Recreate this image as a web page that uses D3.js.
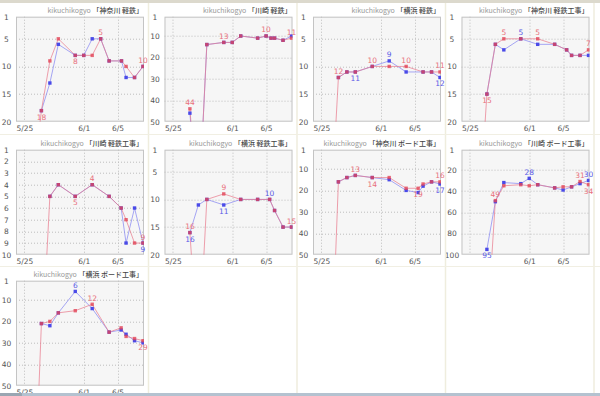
<!DOCTYPE html>
<html>
<head>
<meta charset="utf-8">
<script src="https://cdn.jsdelivr.net/npm/d3@7"></script>
<style>
  body { margin: 0; background: #fff; overflow: hidden; }
  svg { display: block; }
</style>
</head>
<body>
<div class="board"></div>
<script>

// ---- data ----
var titles = ["「神奈川 軽鉄」", "「川崎 軽鉄」", "「横浜 軽鉄」",
              "「神奈川 軽鉄工事」", "「川崎 軽鉄工事」", "「横浜 軽鉄工事」",
              "「神奈川 ボード工事」", "「川崎 ボード工事」", "「横浜 ボード工事」"];
var yMaxes = [20, 50, 20, 20, 10, 20, 50, 100, 50];
var yTickLists = [[1, 5, 10, 15, 20], [1, 10, 20, 30, 40, 50], [1, 5, 10, 15, 20],
                  [1, 5, 10, 15, 20], [1, 2, 3, 4, 5, 6, 7, 8, 9, 10], [1, 5, 10, 15, 20],
                  [1, 10, 20, 30, 40, 50], [1, 20, 40, 60, 80, 100], [1, 10, 20, 30, 40, 50]];
var xTickLabels = ["5/25", "6/1", "6/5"];
var xStart = "5/24", xEnd = "6/8";

var dates1 = ["5/26", "5/27", "5/28", "5/29", "5/31", "6/1", "6/2", "6/3", "6/4", "6/5 11", "6/6", "6/7", "6/8"];
var red1   = [31, 18, 9, 5, 8, 8, 8, 5, 9, 9, 10, 12, 10];
var blue1  = [null, 18, 13, 6, 8, 8, 5, 5, 9, 9, 12, 12, 10];

var dates2 = ["5/27", "5/28", "5/29", "5/31", "6/1", "6/2", "6/4", "6/5", "6/5 14", "6/6", "6/7", "6/8"];
var red2   = [44, 95, 14, 13, 13, 10, 11, 10, 11, 11, 12, 11];
var blue2  = [46, 95, 14, 13, 13, 10, 11, 10, 11, 11, 12, 10];

var dates3 = ["5/26", "5/27", "5/28", "5/29", "5/31", "6/2", "6/4", "6/6", "6/7", "6/8"];
var red3   = [40, 12, 11, 11, 10, 10, 10, 11, 11, 11];
var blue3  = [null, 12, 11, 11, 10, 9, 11, 11, 11, 12];

var dates4 = ["5/26", "5/27", "5/28", "5/29", "5/31", "6/2", "6/4", "6/5 10", "6/6", "6/7", "6/8"];
var red4   = [39, 15, 6, 5, 5, 5, 6, 7, 8, 8, 7];
var blue4  = [null, 15, 6, 7, 5, 6, 6, 7, 8, 8, 8];

var dates5 = ["5/27", "5/28", "5/29", "5/31", "6/2", "6/4", "6/5 10", "6/6", "6/7", "6/8"];
var red5   = [19, 5, 4, 5, 4, 5, 6, 7, 9, 9];
var blue5  = [null, 5, 4, 5, 4, 5, 6, 9, 6, 9];

var dates6 = ["5/27", "5/28", "5/29", "5/31", "6/2", "6/4", "6/5 10", "6/6", "6/7", "6/8"];
var red6   = [16, 39, 10, 9, 10, 10, 10, 12, 15, 15];
var blue6  = [16, 11, 10, 11, 10, 10, 10, 12, 15, 15];

var dates7 = ["5/26", "5/27", "5/28", "5/29", "5/31", "6/2", "6/4", "6/5 10", "6/6", "6/7", "6/8"];
var red7   = [120, 16, 14, 13, 14, 14, 19, 19, 17, 16, 16];
var blue7  = [null, 16, 14, 13, 14, 15, 20, 21, 18, 16, 17];

var dates8 = ["5/27", "5/28", "5/29", "5/31", "6/1", "6/2", "6/4", "6/5", "6/6", "6/7", "6/8"];
var red8   = [175, 49, 35, 34, 35, 34, 37, 36, 36, 31, 34];
var blue8  = [95, 50, 32, 33, 28, 34, 37, 39, 36, 33, 30];

var dates9 = ["5/26", "5/27", "5/28", "5/29", "5/31", "6/2", "6/4", "6/5 10", "6/6", "6/7", "6/8"];
var red9   = [124, 21, 20, 16, 15, 12, 25, 23, 27, 28, 29];
var blue9  = [null, 21, 22, 16, 6, 14, 25, 24, 26, 29, 30];

// which points carry a value label: [series, index, side (-1 above, 1 below)]
var notes1 = [["r", 1, 1], ["r", 4, 1], ["r", 7, -1], ["r", 12, -1]];
var notes2 = [["r", 0, -1], ["r", 3, -1], ["r", 7, -1], ["r", 11, -1]];
var notes3 = [["r", 1, -1], ["b", 3, 1], ["r", 4, -1], ["b", 5, -1], ["r", 6, -1], ["r", 9, -1], ["b", 9, 1]];
var notes4 = [["r", 1, 1], ["r", 3, -1], ["b", 4, -1], ["r", 5, -1], ["r", 10, -1]];
var notes5 = [["r", 3, 1], ["r", 4, -1], ["r", 9, -1], ["b", 9, 1]];
var notes6 = [["r", 0, -1], ["b", 0, 1], ["r", 3, -1], ["b", 3, 1], ["b", 6, -1], ["r", 9, -1]];
var notes7 = [["r", 3, -1], ["r", 4, 1], ["r", 7, 1], ["r", 10, -1], ["b", 10, 1]];
var notes8 = [["b", 0, 1], ["r", 1, -1], ["b", 4, -1], ["r", 9, -1], ["b", 10, -1], ["r", 10, 1]];
var notes9 = [["b", 4, -1], ["r", 5, -1], ["r", 10, 1]];

var panelDates = [dates1, dates2, dates3, dates4, dates5, dates6, dates7, dates8, dates9];
var panelRed = [red1, red2, red3, red4, red5, red6, red7, red8, red9];
var panelBlue = [blue1, blue2, blue3, blue4, blue5, blue6, blue7, blue8, blue9];
var panelNotes = [notes1, notes2, notes3, notes4, notes5, notes6, notes7, notes8, notes9];

// ---- layout ----
var W = 600, H = 396;
var cellW = 148.5;
var rowTops = [0, 133, 264];
var plotW = 128, plotH = 105;
var redLine = '#e8788a', blueLine = '#8a8af2';
var redMark = '#e24456', blueMark = '#4a4ae8';
var tickFont = '"DejaVu Sans", sans-serif';

var svg = d3.select('.board').append('svg')
            .attr('width', W)
            .attr('height', H);

svg.append('rect').attr('x', 0).attr('y', 0).attr('width', W).attr('height', 3).attr('fill', '#dcd9cd');

var parseHour = d3.timeParse('%m/%d %H');
var parseDay = d3.timeParse('%m/%d');
var toDate = function(s) {
  return s.indexOf(' ') > 0 ? parseHour(s) : parseDay(s);
};

var x = d3.scaleTime()
          .domain([parseDay(xStart), parseDay(xEnd)])
          .range([0, plotW - 1]);

var drawPanel = function(k) {
  var col = k % 4, row = Math.floor(k / 4);
  var left = col * cellW + 16;
  var top = rowTops[row] + 16.7;
  var y = d3.scaleLinear().domain([1, yMaxes[k]]).range([0, plotH]);

  var g = svg.append('g').attr('transform', 'translate(' + left + ',' + top + ')');

  // title
  var title = g.append('text')
               .attr('x', plotW - 1)
               .attr('y', -3.5)
               .attr('text-anchor', 'end')
               .attr('font-size', '7px')
               .attr('font-family', '"Noto Sans CJK JP", "DejaVu Sans", sans-serif');
  title.append('tspan').attr('fill', '#999').text('kikuchikogyo ');
  title.append('tspan').attr('fill', '#444').attr('font-weight', 500).text(titles[k]);

  g.append('rect')
   .attr('x', 0).attr('y', 0)
   .attr('width', plotW).attr('height', plotH)
   .attr('fill', '#f6f6f6');

  // grid
  var xTicks = xTickLabels.map(parseDay);
  g.selectAll('line.vgrid')
   .data(xTicks)
   .enter()
   .append('line')
   .attr('class', 'vgrid')
   .attr('x1', function(d) { return Math.round(x(d)) + 0.5; })
   .attr('x2', function(d) { return Math.round(x(d)) + 0.5; })
   .attr('y1', 0).attr('y2', plotH)
   .attr('stroke', '#bdbdbd')
   .attr('stroke-dasharray', '1,2');

  var yTicks = yTickLists[k];
  g.selectAll('line.hgrid')
   .data(yTicks.slice(1, -1))
   .enter()
   .append('line')
   .attr('class', 'hgrid')
   .attr('x1', 0).attr('x2', plotW)
   .attr('y1', function(d) { return Math.round(y(d)) + 0.5; })
   .attr('y2', function(d) { return Math.round(y(d)) + 0.5; })
   .attr('stroke', '#bdbdbd')
   .attr('stroke-dasharray', '1,2');

  g.append('rect')
   .attr('x', 0.5).attr('y', 0.5)
   .attr('width', plotW - 1).attr('height', plotH - 1)
   .attr('fill', 'none')
   .attr('stroke', '#c4c4c4');

  // axes
  var shownX = String(yMaxes[k]).length >= 3 ? xTicks.slice(1) : xTicks;
  var xAxis = g.append('g')
               .attr('transform', 'translate(0,' + plotH + ')')
               .call(d3.axisBottom(x).tickValues(shownX).tickFormat(d3.timeFormat('%-m/%-d')).tickSize(0).tickPadding(4));
  xAxis.select('.domain').remove();
  xAxis.selectAll('text').attr('font-size', '7.5px').attr('font-family', tickFont).attr('fill', '#555');

  var yAxis = g.append('g')
               .call(d3.axisLeft(y).tickValues(yTicks).tickSize(0));
  yAxis.select('.domain').remove();
  yAxis.selectAll('text')
       .attr('x', -9.5)
       .attr('text-anchor', 'middle')
       .attr('font-size', '7.5px')
       .attr('font-family', tickFont)
       .attr('fill', '#555');

  // series
  var clipId = 'clip' + k;
  g.append('clipPath').attr('id', clipId)
   .append('rect').attr('x', 0).attr('y', 0).attr('width', plotW).attr('height', plotH);
  var plot = g.append('g').attr('clip-path', 'url(#' + clipId + ')');

  var dates = panelDates[k].map(toDate);
  var mk = function(vals) {
    return vals.map(function(v, i) { return {date: dates[i], v: v, i: i}; });
  };
  var blueData = mk(panelBlue[k]);
  var redData = mk(panelRed[k]);

  var line = d3.line()
               .defined(function(d) { return d.v !== null; })
               .x(function(d) { return x(d.date); })
               .y(function(d) { return y(d.v); });

  plot.append('path').datum(blueData)
      .attr('d', line).attr('fill', 'none')
      .attr('stroke', blueLine).attr('stroke-width', 1).attr('opacity', 0.75);
  plot.append('path').datum(redData)
      .attr('d', line).attr('fill', 'none')
      .attr('stroke', redLine).attr('stroke-width', 1).attr('opacity', 0.7);

  plot.selectAll('rect.bpt')
      .data(blueData.filter(function(d) { return d.v !== null; }))
      .enter()
      .append('rect')
      .attr('class', 'bpt')
      .attr('x', function(d) { return x(d.date) - 1.7; })
      .attr('y', function(d) { return y(d.v) - 1.7; })
      .attr('width', 3.4).attr('height', 3.4)
      .attr('fill', blueMark);

  plot.selectAll('rect.rpt')
      .data(redData.filter(function(d) { return d.v !== null; }))
      .enter()
      .append('rect')
      .attr('class', 'rpt')
      .attr('x', function(d) { return x(d.date) - 1.7; })
      .attr('y', function(d) { return y(d.v) - 1.7; })
      .attr('width', 3.4).attr('height', 3.4)
      .attr('fill', redMark)
      .attr('opacity', 0.8);

  // value labels
  g.selectAll('text.note')
   .data(panelNotes[k])
   .enter()
   .append('text')
   .attr('class', 'note')
   .attr('x', function(d) { return x(dates[d[1]]); })
   .attr('y', function(d) {
     var v = (d[0] === 'r' ? panelRed[k] : panelBlue[k])[d[1]];
     return y(v) + (d[2] < 0 ? -3.5 : 9);
   })
   .attr('text-anchor', 'middle')
   .attr('font-size', '7.5px')
   .attr('font-family', tickFont)
   .attr('fill', function(d) { return d[0] === 'r' ? '#e8707c' : '#5b5be6'; })
   .text(function(d) { return (d[0] === 'r' ? panelRed[k] : panelBlue[k])[d[1]]; });
};

for (var k = 0; k < titles.length; k++) {
  drawPanel(k);
}

// cell separators
[1, 2, 3, 4].forEach(function(i) {
  svg.append('line')
     .attr('x1', i * cellW).attr('x2', i * cellW)
     .attr('y1', 3).attr('y2', H)
     .attr('stroke', '#efedde').attr('stroke-width', 1.5);
});
[134.5, 266.5].forEach(function(yy) {
  svg.append('line')
     .attr('x1', 0).attr('x2', W)
     .attr('y1', yy).attr('y2', yy)
     .attr('stroke', '#f1efe3').attr('stroke-width', 1);
});

// bottom scroll bar strip
svg.append('rect').attr('x', 0).attr('y', 393).attr('width', W).attr('height', 3).attr('fill', '#b4c2d0');
svg.append('rect').attr('x', 0).attr('y', 393).attr('width', 22).attr('height', 3).attr('fill', '#9aa6b2');

</script>
</body>
</html>
